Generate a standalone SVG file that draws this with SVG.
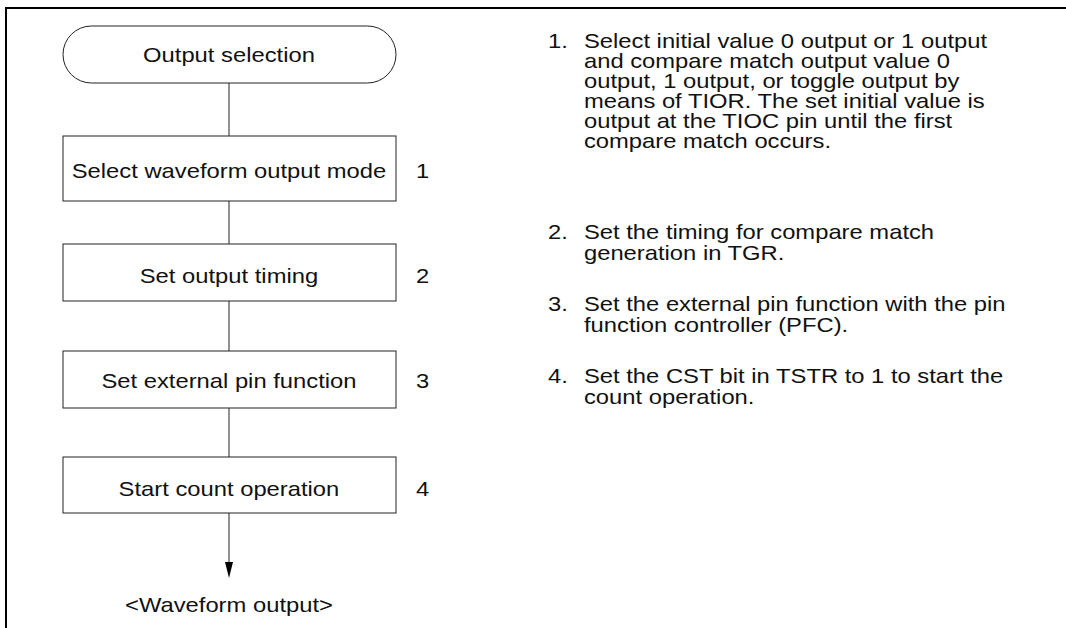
<svg xmlns="http://www.w3.org/2000/svg" width="1066" height="628" viewBox="0 0 1066 628">
<style>
.frame{stroke:#000;stroke-width:2;fill:none}
.box{fill:#fff;stroke:#222;stroke-width:1}
.conn{stroke:#222;stroke-width:1;fill:none}
.t{font-family:"Liberation Sans",Arial,sans-serif;font-size:21px;fill:#111}
.c{text-anchor:middle}
</style>
<rect width="1066" height="628" fill="#fff"/>
<path class="frame" d="M6,628 V8 H1066"/>
<g id="connectors">
<line class="conn" x1="229" y1="83" x2="229" y2="136"/>
<line class="conn" x1="229" y1="201" x2="229" y2="244"/>
<line class="conn" x1="229" y1="301" x2="229" y2="351"/>
<line class="conn" x1="229" y1="408" x2="229" y2="457"/>
<line class="conn" x1="229" y1="513" x2="229" y2="562"/>
<path d="M225,562 L233,562 L229,578 Z" fill="#000"/>
</g>
<g id="start">
<rect class="box" x="63" y="26" width="333" height="57" rx="28.5"/>
<text class="t c" transform="scale(1.133 1)" x="202.1" y="62">Output selection</text>
</g>
<g id="step1">
<rect class="box" x="63" y="136" width="333" height="65"/>
<text class="t c" transform="scale(1.133 1)" x="202.1" y="178">Select waveform output mode</text>
<text class="t" transform="scale(1.133 1)" x="367.2" y="178">1</text>
</g>
<g id="step2">
<rect class="box" x="63" y="244" width="333" height="57"/>
<text class="t c" transform="scale(1.133 1)" x="202.1" y="283">Set output timing</text>
<text class="t" transform="scale(1.133 1)" x="367.2" y="283">2</text>
</g>
<g id="step3">
<rect class="box" x="63" y="351" width="333" height="57"/>
<text class="t c" transform="scale(1.133 1)" x="202.1" y="388">Set external pin function</text>
<text class="t" transform="scale(1.133 1)" x="367.2" y="388">3</text>
</g>
<g id="step4">
<rect class="box" x="63" y="457" width="333" height="56"/>
<text class="t c" transform="scale(1.133 1)" x="202.1" y="496">Start count operation</text>
<text class="t" transform="scale(1.133 1)" x="367.2" y="496">4</text>
</g>
<g id="end">
<text class="t c" transform="scale(1.133 1)" x="202.1" y="612">&lt;Waveform output&gt;</text>
</g>
<g id="notes" transform="scale(1.133 1)">
<text class="t" x="483.7" y="48">1.</text>
<text class="t" x="515.4" y="48">Select initial value 0 output or 1 output</text>
<text class="t" x="515.4" y="68">and compare match output value 0</text>
<text class="t" x="515.4" y="88">output, 1 output, or toggle output by</text>
<text class="t" x="515.4" y="108">means of TIOR. The set initial value is</text>
<text class="t" x="515.4" y="128">output at the TIOC pin until the first</text>
<text class="t" x="515.4" y="148">compare match occurs.</text>
<text class="t" x="483.7" y="239">2.</text>
<text class="t" x="515.4" y="239">Set the timing for compare match</text>
<text class="t" x="515.4" y="260">generation in TGR.</text>
<text class="t" x="483.7" y="311">3.</text>
<text class="t" x="515.4" y="311">Set the external pin function with the pin</text>
<text class="t" x="515.4" y="332">function controller (PFC).</text>
<text class="t" x="483.7" y="383">4.</text>
<text class="t" x="515.4" y="383">Set the CST bit in TSTR to 1 to start the</text>
<text class="t" x="515.4" y="404">count operation.</text>
</g>
</svg>
